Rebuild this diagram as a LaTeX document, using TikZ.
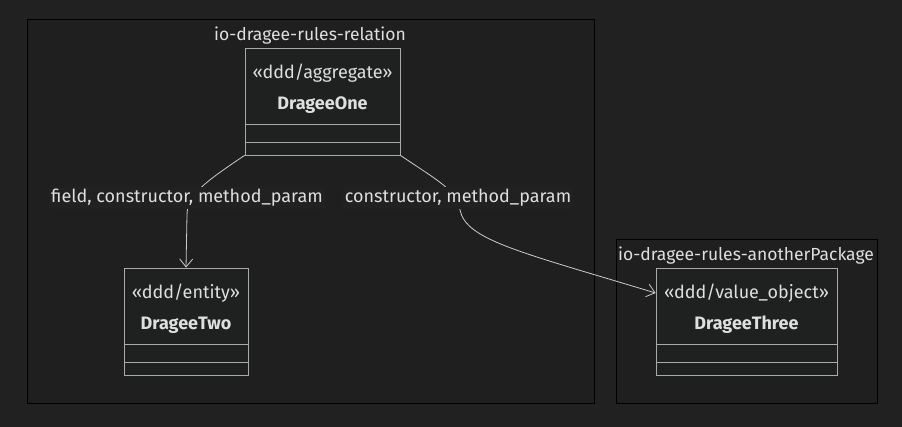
\documentclass[tikz,border=0pt]{standalone}
\usepackage{fontspec}
\setmainfont{Fira Sans}
\usepackage[RGB]{xcolor}
\usetikzlibrary{arrows.meta,calc}
\definecolor{bg}{RGB}{33,33,33}
\definecolor{pkgfill}{RGB}{31,31,31}
\definecolor{boxfill}{RGB}{31,32,32}
\definecolor{boxline}{RGB}{170,170,170}
\definecolor{ink}{RGB}{224,223,223}
\definecolor{wire}{RGB}{204,204,204}
\tikzset{
  pkg/.style={draw=black, fill=pkgfill, line width=1pt},
  pkgtitle/.style={text=ink, font=\fontsize{17.5}{20}\selectfont, inner sep=0pt},
  classbox/.style={draw=boxline, fill=boxfill, line width=0.8pt, minimum height=107pt, inner sep=0pt},
  stereo/.style={text=ink, font=\fontsize{18}{21}\selectfont, inner sep=0pt},
  cname/.style={text=ink, font=\fontsize{18}{21}\selectfont\bfseries, inner sep=0pt},
  divider/.style={draw=boxline, line width=0.8pt},
  rel/.style={draw=wire, line width=0.8pt, -{Straight Barb[length=8pt,width=13pt]}},
  rellabel/.style={text=ink, fill=bg, font=\fontsize{18}{21}\selectfont, inner sep=2pt}
}
% #1 name, #2 centre x, #3 top y, #4 width, #5 stereotype, #6 class
\newcommand{\drageebox}[6]{
  \node[classbox, minimum width=#4] (#1) at (#2,#3+53.5) {};
  \node[stereo] (#1-st) at (#2,#3+25) {«#5»};
  \node[cname] (#1-nm) at (#2,#3+57) {#6};
  \draw[divider] ($(#1.south west)+(0,-31)$) -- ($(#1.south east)+(0,-31)$);
  \draw[divider] ($(#1.south west)+(0,-13)$) -- ($(#1.south east)+(0,-13)$);
}
\begin{document}
\begin{tikzpicture}[x=1pt,y=-1pt]
\fill[bg] (0,0) rectangle (902,427);
\useasboundingbox (0,0) rectangle (902,427);
\draw[pkg] (27,20) rectangle (594,403);
\draw[pkg] (616,240) rectangle (877,403);
\node[pkgtitle] (relation) at (310,36) {io-dragee-rules-relation};
\node[pkgtitle] (another) at (746,256) {io-dragee-rules-anotherPackage};
\drageebox{one}{322.5}{48}{155pt}{ddd/aggregate}{DrageeOne}
\drageebox{two}{186}{268}{124pt}{ddd/entity}{DrageeTwo}
\drageebox{three}{746.5}{268}{181pt}{ddd/value\_object}{DrageeThree}
\coordinate (threein) at (three.west |- three-st);
\draw[rel] (one.south west) .. controls (205,182) and (187,195) .. (187,215) -- (two.north);
\draw[rel] (one.south east) .. controls (440,182) and (456,190) .. (460,210) .. controls (466,240) and (520,252) .. (threein);
\node[rellabel] (lab1) at (187,198) {field, constructor, method\_param};
\node[rellabel] (lab2) at (458,198) {constructor, method\_param};
\end{tikzpicture}
\end{document}
